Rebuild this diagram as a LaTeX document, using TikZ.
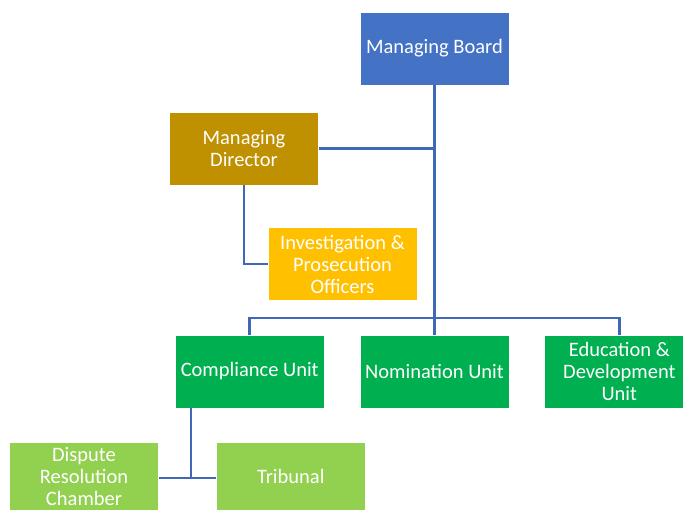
\documentclass[tikz,border=0pt]{standalone}
\usepackage{fontspec}
\setmainfont{Carlito}
\usetikzlibrary{positioning,calc}
\definecolor{boardblue}{HTML}{4472C4}
\definecolor{dirgold}{HTML}{BF9000}
\definecolor{offyellow}{HTML}{FFC000}
\definecolor{unitgreen}{HTML}{00B050}
\definecolor{subgreen}{HTML}{92D050}
\definecolor{linkblue}{HTML}{4068B8}
\tikzset{
    box/.style = {draw=white, line width=0.8pt, rectangle, text=white,
        align=center, inner sep=2pt,
        minimum height=73pt,
        minimum width=149pt,
        font=\fontsize{20.5}{22}\selectfont},
    link/.style = {draw=linkblue, line width=2.8pt},
}

\begin{document}
\begin{tikzpicture}[x=1pt,y=-1pt]
		\useasboundingbox (0,0) rectangle (683,509);
		% top of the chart
		\node [box, fill=boardblue] (board) at (434.5,48.5) {Managing Board};
		% managing director and officers
		\node [box, fill=dirgold] (mdir) at (244,148.5) {Managing\\Director};
		\node [box, fill=offyellow] (officers) at (342.5,264) {Investigation \&\\Prosecution\\Officers};
		
		% row of units
		\node [box, fill=unitgreen] (nomunit) at (434.5,371.5) {Nomination Unit};
		\node [box, fill=unitgreen, left=35pt of nomunit] (compunit) {Compliance Unit};
		\node [box, fill=unitgreen, right=35pt of nomunit] (eduunit) {Education \&\\Development\\Unit};
		
		% below compliance unit
		\node [box, fill=subgreen, minimum height=69pt] (dispute) at (84,476.5) {Dispute\\Resolution\\Chamber};
		\node [box, fill=subgreen, minimum height=69pt, right=57pt of dispute] (tribunal) {Tribunal};
		
		% junction points
		\coordinate (bus) at (434.5,318);
		\coordinate (cjoin) at (191,478);
		
		% connecting lines
		\draw [link] (board) -- (nomunit);
		\draw [link] (mdir.east) -- (mdir.east -| board.south);
		\draw [link] (mdir) |- (officers);
		\draw [link] (compunit) |- (bus) -| (eduunit);
		\draw [link] (cjoin |- compunit.south) -- (cjoin);
		\draw [link] (dispute.east |- cjoin) -- (tribunal.west |- cjoin);
	\end{tikzpicture}
\end{document}
